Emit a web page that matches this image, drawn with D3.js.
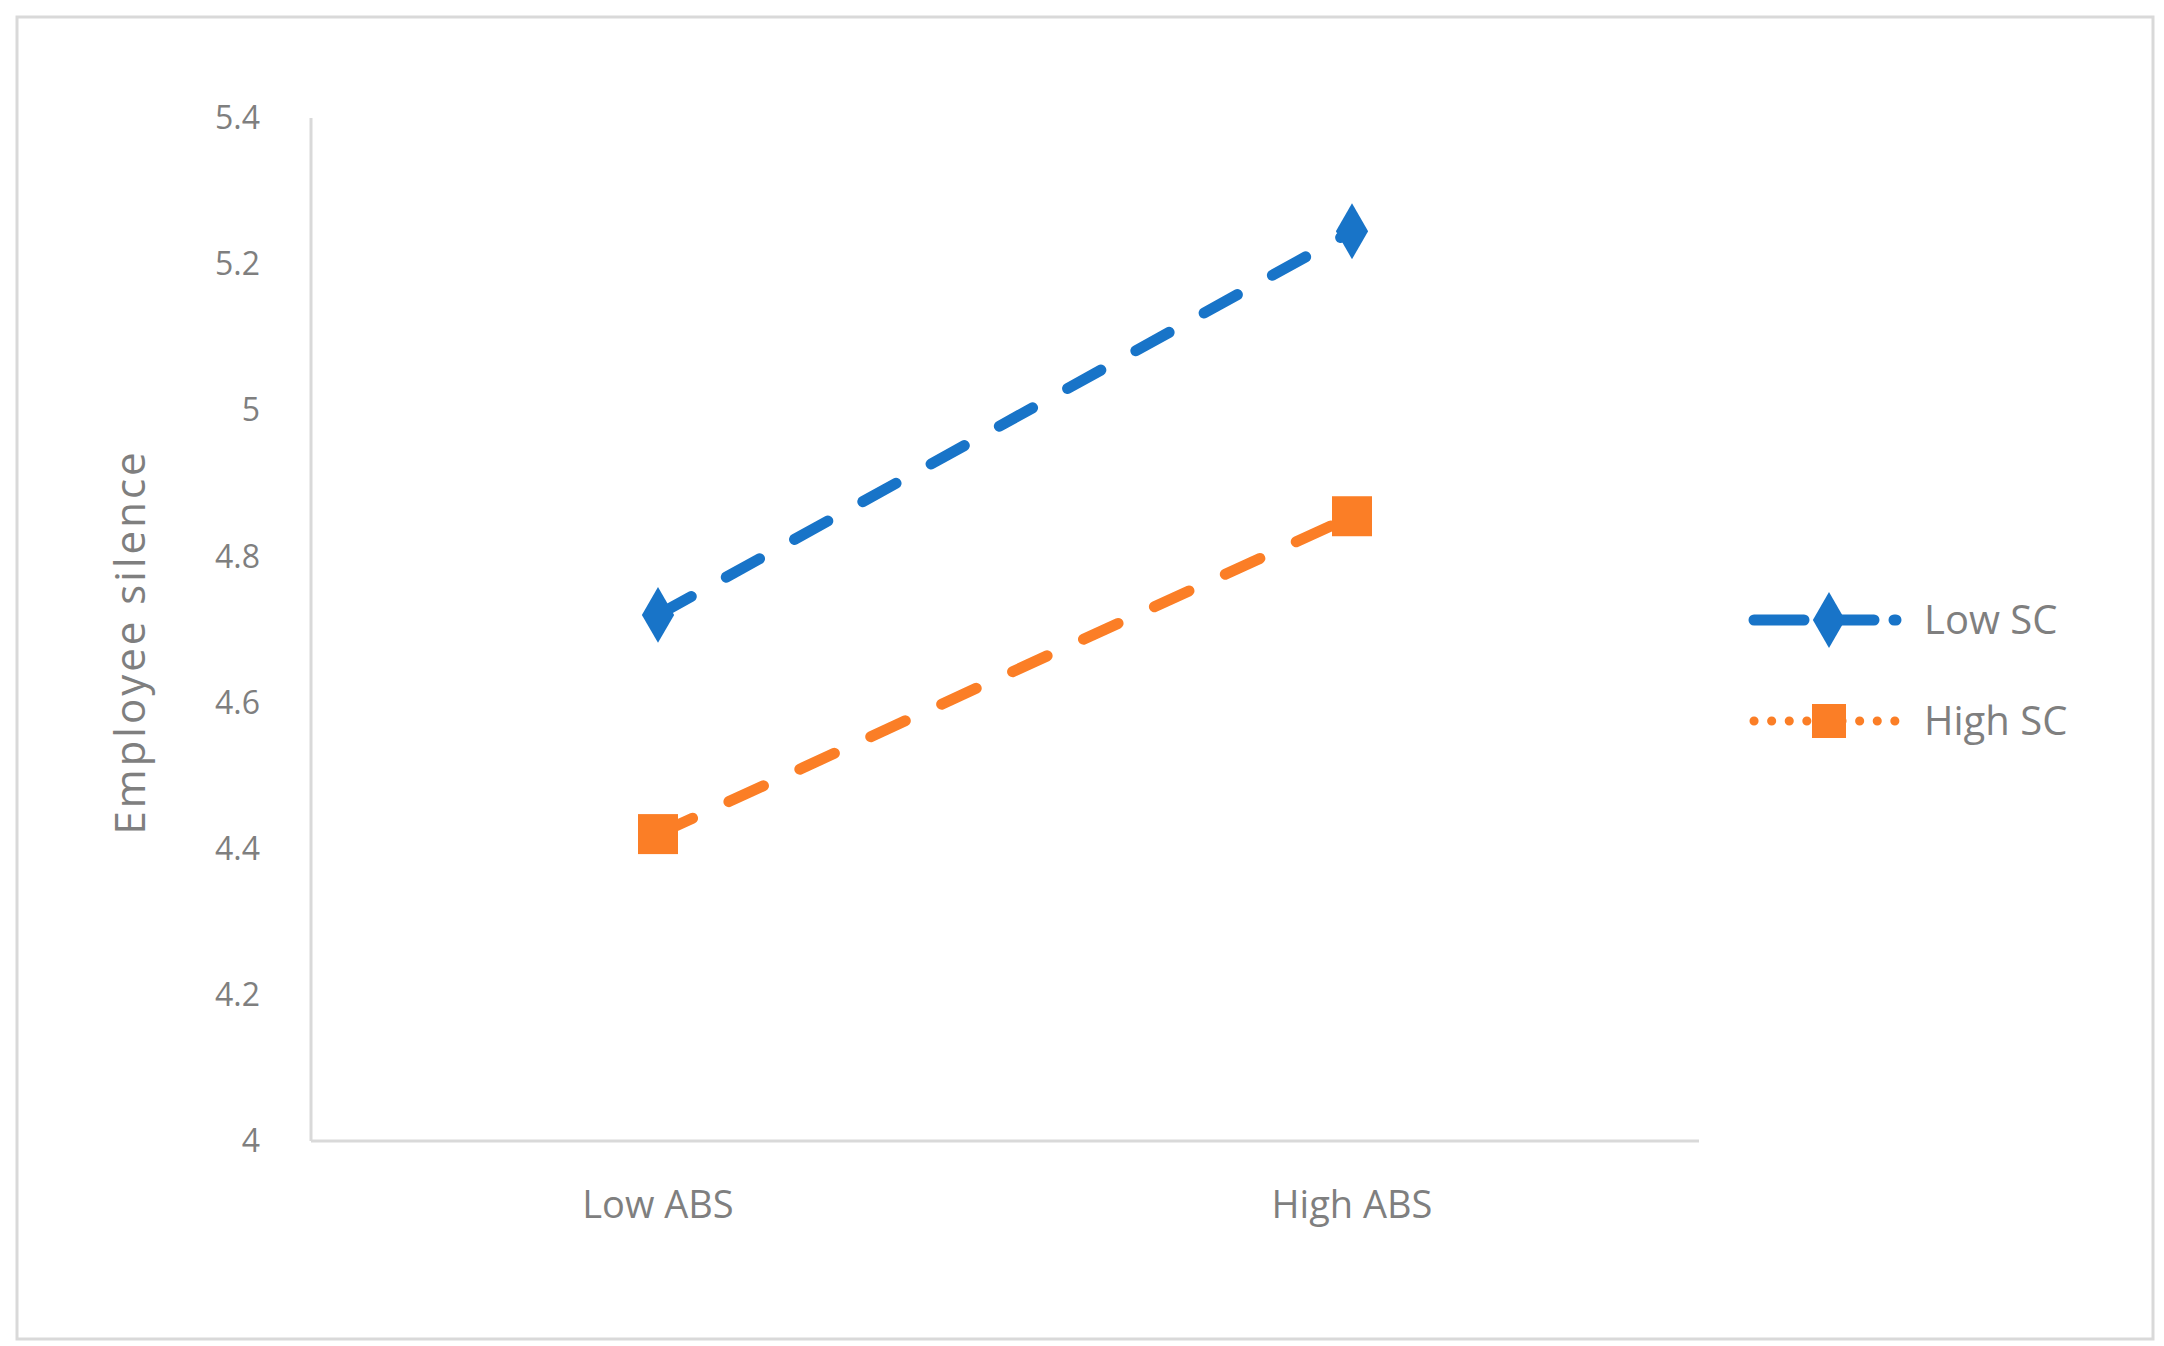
<!DOCTYPE html>
<html lang="en">
<head>
<meta charset="UTF-8">
<script src="https://cdnjs.cloudflare.com/ajax/libs/d3/7.8.5/d3.min.js"></script>
<style>body{margin:0;background:#fff;} text{font-family:"Open Sans",sans-serif;fill:#7f7f7f;}</style>
</head>
<body>
<svg width="2164" height="1346"></svg>
<script>
const categories = ["Low ABS", "High ABS"];
const seriesNames = ["Low SC", "High SC"];
const lowSC = [4.72, 5.245];
const highSC = [4.42, 4.855];
const yTicks = [4, 4.2, 4.4, 4.6, 4.8, 5, 5.2, 5.4];
const colors = ["#1874c8", "#fb7e26"];

const svg = d3.select("svg");
svg.append("rect").attr("x", 17).attr("y", 17).attr("width", 2136).attr("height", 1322)
    .attr("fill", "none").attr("stroke", "#d9d9d9").attr("stroke-width", 3);

const plotLeft = 311, plotRight = 1699, plotTop = 118, plotBottom = 1141;
const x = d3.scalePoint().domain(categories).range([plotLeft, plotRight]).padding(0.5);
const y = d3.scaleLinear().domain([4, 5.4]).range([plotBottom, plotTop]);

svg.append("line").attr("x1", plotLeft).attr("x2", plotLeft).attr("y1", plotTop).attr("y2", plotBottom)
    .attr("stroke", "#d9d9d9").attr("stroke-width", 3);
svg.append("line").attr("x1", plotLeft).attr("x2", plotRight).attr("y1", plotBottom).attr("y2", plotBottom)
    .attr("stroke", "#d9d9d9").attr("stroke-width", 3);

svg.selectAll(".ytick").data(yTicks).enter().append("text")
    .attr("x", 260).attr("y", d => y(d)).attr("dy", "0.35em")
    .attr("text-anchor", "end").attr("font-size", 32).text(d => d);

svg.selectAll(".xtick").data(categories).enter().append("text")
    .attr("x", d => x(d)).attr("y", 1218).attr("text-anchor", "middle")
    .attr("font-size", 38).text(d => d);

svg.append("text").attr("transform", "translate(145,642) rotate(-90)")
    .attr("text-anchor", "middle").attr("font-size", 42).attr("letter-spacing", 3)
    .text("Employee  silence");

const line = d3.line().x((d, i) => x(categories[i])).y(d => y(d));
[lowSC, highSC].forEach((vals, s) => {
    svg.append("path").attr("d", line(vals)).attr("fill", "none")
        .attr("stroke", colors[s]).attr("stroke-width", 11)
        .attr("stroke-linecap", "round").attr("stroke-dasharray", "38,40");
    vals.forEach((v, i) => {
        const cx = x(categories[i]), cy = y(v);
        if (s === 0) {
            svg.append("path").attr("d", d3.symbol(d3.symbolDiamond, 900)())
                .attr("transform", `translate(${cx},${cy})`).attr("fill", colors[s]);
        } else {
            svg.append("rect").attr("x", cx - 20).attr("y", cy - 20).attr("width", 40).attr("height", 40)
                .attr("fill", colors[s]);
        }
    });
});

// legend
const ly = [620, 721];
seriesNames.forEach((name, s) => {
    const g = svg.append("g");
    g.append("line").attr("x1", 1754).attr("x2", 1896).attr("y1", ly[s]).attr("y2", ly[s])
        .attr("stroke", colors[s]).attr("stroke-width", s === 0 ? 11 : 9)
        .attr("stroke-linecap", "round")
        .attr("stroke-dasharray", s === 0 ? "50,20" : "0.1,17.5");
    if (s === 0) {
        g.append("path").attr("d", d3.symbol(d3.symbolDiamond, 900)())
            .attr("transform", `translate(1829,${ly[s]})`).attr("fill", colors[s]);
    } else {
        g.append("rect").attr("x", 1812).attr("y", ly[s] - 17).attr("width", 34).attr("height", 34)
            .attr("fill", colors[s]);
    }
    g.append("text").attr("x", 1924).attr("y", ly[s]).attr("dy", "0.35em")
        .attr("font-size", 40).text(name);
});
</script>
</body>
</html>
